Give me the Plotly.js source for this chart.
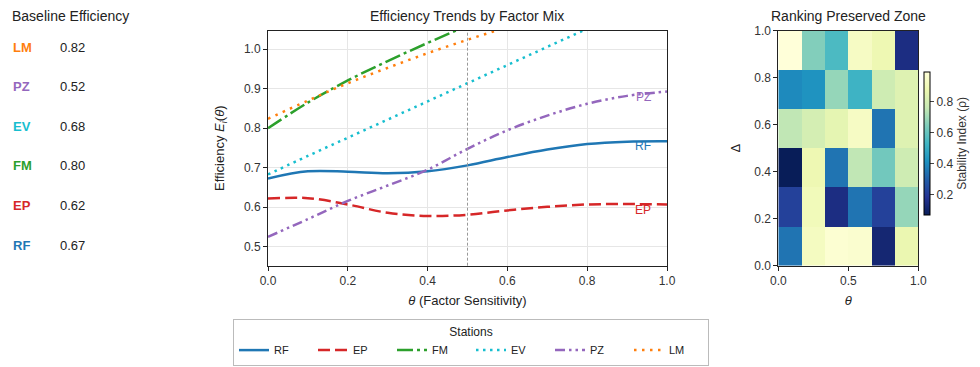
<!DOCTYPE html>
<html>
<head>
<meta charset="utf-8">
<script src="https://cdn.plot.ly/plotly-3.0.1.min.js"></script>
<style>html,body{margin:0;padding:0;background:#fff}#chart{width:980px;height:367px}</style>
</head>
<body>
<div id="chart"></div>
<script>
// ---- data ----
var theta = [0, 0.1, 0.2, 0.3, 0.4, 0.5, 0.6, 0.7, 0.8, 0.9, 1.0];
var stations = ['RF', 'EP', 'FM', 'EV', 'PZ', 'LM'];
var effRF = [0.673, 0.691, 0.690, 0.686, 0.691, 0.706, 0.727, 0.746, 0.760, 0.766, 0.767];
var effEP = [0.622, 0.623, 0.607, 0.586, 0.578, 0.581, 0.592, 0.601, 0.607, 0.608, 0.607];
var effFM = [0.800, 0.865, 0.921, 0.970, 1.016, 1.060, 1.100, 1.140, 1.175, 1.205, 1.230];
var effEV = [0.683, 0.730, 0.776, 0.822, 0.868, 0.914, 0.960, 1.006, 1.052, 1.098, 1.144];
var effPZ = [0.525, 0.570, 0.616, 0.655, 0.695, 0.748, 0.795, 0.832, 0.862, 0.882, 0.893];
var effLM = [0.824, 0.870, 0.914, 0.953, 0.990, 1.024, 1.056, 1.086, 1.114, 1.140, 1.165];
var baselineOrder = ['LM', 'PZ', 'EV', 'FM', 'EP', 'RF'];
var baselineValues = [0.82, 0.52, 0.68, 0.80, 0.62, 0.67];
var labeledStations = ['PZ', 'RF', 'EP'];
var gridEdges = [0, 1/6, 2/6, 3/6, 4/6, 5/6, 1];
// rows from Δ=0 (bottom) to Δ=1 (top)
var stability = [
  [0.35, 0.92, 0.97, 0.96, 0.12, 0.87],
  [0.22, 0.90, 0.15, 0.35, 0.22, 0.68],
  [0.07, 0.88, 0.35, 0.75, 0.62, 0.78],
  [0.75, 0.80, 0.85, 0.93, 0.35, 0.83],
  [0.40, 0.42, 0.68, 0.52, 0.78, 0.83],
  [0.99, 0.65, 0.55, 0.93, 0.88, 0.15]
];
var heatTicks = [0.2, 0.4, 0.6, 0.8];

// ---- styles ----
var colors = {RF:'#1f77b4', EP:'#d62728', FM:'#2ca02c', EV:'#17becf', PZ:'#9467bd', LM:'#ff7f0e'};
var dashes = {RF:'solid', EP:'12px,5px', FM:'16px,4px,3px,4px', EV:'2.5px,4.5px',
              PZ:'10px,4px,2.5px,4px,2.5px,4px', LM:'2.5px,5.5px'};
var series = {RF:effRF, EP:effEP, FM:effFM, EV:effEV, PZ:effPZ, LM:effLM};
var FONT = 'Liberation Sans, Arial, sans-serif';
var W = 980, H = 367;
function px(x){return x / W;}
function py(y){return 1 - y / H;}

var traces = stations.map(function(s){
  return {x: theta, y: series[s], name: s, type: 'scatter', mode: 'lines',
    line: {color: colors[s], width: 2.5, dash: dashes[s], shape: 'spline', smoothing: 1},
    xaxis: 'x', yaxis: 'y', hoverinfo: 'skip'};
});

var ylColors = ['#081d58','#253494','#225ea8','#1d91c0','#41b6c4','#7fcdbb','#c7e9b4','#edf8b1','#ffffd9'];
var cscale = ylColors.map(function(c, i){return [i/(ylColors.length-1), c];});

traces.push({
  type: 'heatmap', x: gridEdges, y: gridEdges, z: stability,
  colorscale: cscale, xaxis: 'x2', yaxis: 'y2', showlegend: false, hoverinfo: 'skip',
  colorbar: {x: px(924), xanchor: 'left', y: py(143.4), yanchor: 'middle', len: 143.3/H,
    thickness: 6, outlinewidth: 1, outlinecolor: '#000', xpad: 0, ypad: 0,
    tickvals: heatTicks, ticktext: heatTicks.map(function(v){return v.toFixed(1);}),
    ticks: 'outside', ticklen: 4, tickfont: {size: 12, color: '#333'},
    title: {text: 'Stability Index (ρ)', side: 'right', font: {size: 12, color: '#333'}}}
});

var annotations = [
  {text: 'Efficiency Trends by Factor Mix', x: px(467), y: py(16), xref: 'paper', yref: 'paper',
   showarrow: false, font: {size: 14, color: '#222'}, xanchor: 'center', yanchor: 'middle'},
  {text: 'Ranking Preserved Zone', x: px(848), y: py(16), xref: 'paper', yref: 'paper',
   showarrow: false, font: {size: 14, color: '#222'}, xanchor: 'center', yanchor: 'middle'},
  {text: 'Baseline Efficiency', x: px(10), y: py(16), xref: 'paper', yref: 'paper',
   showarrow: false, font: {size: 14, color: '#222'}, xanchor: 'left', yanchor: 'middle'}
];
baselineOrder.forEach(function(s, i){
  var yy = 47 + i * 39.6;
  annotations.push({text: '<b>' + s + '</b>', x: px(11), y: py(yy), xref: 'paper', yref: 'paper',
    showarrow: false, font: {size: 13, color: colors[s]}, xanchor: 'left', yanchor: 'middle'});
  annotations.push({text: baselineValues[i].toFixed(2), x: px(58), y: py(yy), xref: 'paper', yref: 'paper',
    showarrow: false, font: {size: 13, color: '#222'}, xanchor: 'left', yanchor: 'middle'});
});
labeledStations.forEach(function(s){
  var v = series[s];
  annotations.push({text: s, x: 0.94, y: v[v.length-1] - 0.013, xref: 'x', yref: 'y',
    showarrow: false, font: {size: 12, color: colors[s]}, xanchor: 'center', yanchor: 'middle'});
});

var axisCommon = {showline: true, linecolor: '#222', linewidth: 1, mirror: true,
  ticks: 'outside', ticklen: 4, tickcolor: '#222', tickfont: {size: 12, color: '#333'}, zeroline: false};

var layout = {
  width: W, height: H, margin: {l: 0, r: 0, t: 0, b: 0},
  paper_bgcolor: '#fff', plot_bgcolor: '#fff',
  font: {family: FONT, size: 12, color: '#333'},
  xaxis: Object.assign({}, axisCommon, {domain: [px(268), px(667)], range: [0, 1], dtick: 0.2,
    tickformat: '.1f', showgrid: true, gridcolor: '#e6e6e6', anchor: 'y',
    title: {text: '<i>θ</i> (Factor Sensitivity)', font: {size: 13, color: '#222'}, standoff: 8}}),
  yaxis: Object.assign({}, axisCommon, {domain: [py(265.7), py(30.7)], range: [0.452, 1.047], dtick: 0.1,
    tickformat: '.1f', showgrid: true, gridcolor: '#e6e6e6', anchor: 'x',
    title: {text: 'Efficiency <i>E<sub>i</sub></i>(<i>θ</i>)', font: {size: 13, color: '#222'}, standoff: 16}}),
  xaxis2: Object.assign({}, axisCommon, {domain: [px(778.3), px(918.3)], range: [0, 1], dtick: 0.5,
    tickformat: '.1f', showgrid: false, anchor: 'y2', mirror: true,
    title: {text: '<i>θ</i>', font: {size: 13, color: '#222'}, standoff: 8}}),
  yaxis2: Object.assign({}, axisCommon, {domain: [py(265.7), py(30.7)], range: [0, 1], dtick: 0.2,
    tickformat: '.1f', showgrid: false, anchor: 'x2',
    title: {text: 'Δ', font: {size: 13, color: '#222'}, standoff: 10}}),
  shapes: [{type: 'line', xref: 'x', yref: 'y domain', x0: 0.5, x1: 0.5, y0: 0, y1: 1,
    line: {color: '#999', width: 1, dash: '3px,2px'}}],
  annotations: annotations,
  showlegend: true,
  legend: {orientation: 'h', x: px(233), y: py(319), xanchor: 'left', yanchor: 'top',
    bordercolor: '#bbb', borderwidth: 1, bgcolor: '#fff',
    font: {size: 11, color: '#222'}, entrywidth: 34, entrywidthmode: 'pixels',
    title: {text: 'Stations', side: 'top center', font: {size: 12, color: '#222'}},
    itemwidth: 30, tracegroupgap: 0}
};

Plotly.newPlot('chart', traces, layout, {staticPlot: true, displayModeBar: false});
</script>
</body>
</html>
